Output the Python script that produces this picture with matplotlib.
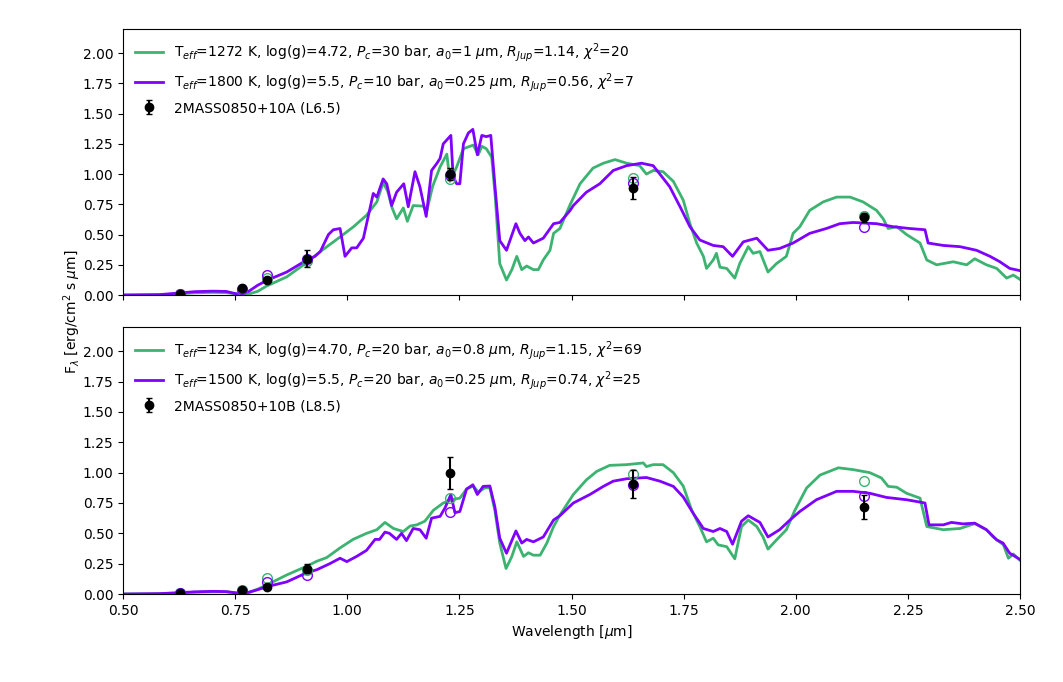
#!/usr/bin/env python
# python3
"""
    Model spectra vs photometry for 2MASS0850+10 A and B
"""
import numpy as np
import matplotlib
matplotlib.use("Agg")
import matplotlib.pyplot as plt

# photometric bands (micron)
wl_phot = [0.627, 0.766, 0.820, 0.911, 1.230, 1.638, 2.152]

# component A: observed flux and errors
obs_A = [0.010, 0.055, 0.124, 0.300, 1.000, 0.887, 0.642]
err_A = [0.005, 0.010, 0.010, 0.070, 0.050, 0.090, 0.040]
syn_A_g = [0.010, 0.040, 0.140, 0.280, 0.956, 0.964, 0.653]
syn_A_p = [0.012, 0.050, 0.165, 0.300, 0.990, 0.923, 0.565]

# component B
obs_B = [0.005, 0.033, 0.055, 0.210, 0.997, 0.909, 0.716]
err_B = [0.003, 0.008, 0.010, 0.040, 0.130, 0.115, 0.100]
syn_B_g = [0.006, 0.030, 0.130, 0.200, 0.790, 0.989, 0.934]
syn_B_p = [0.007, 0.025, 0.097, 0.157, 0.675, 0.895, 0.810]

# model spectra, A, 1272 K
wl_A_g = [0.50, 0.58, 0.62, 0.66, 0.70, 0.73, 0.755, 0.775, 0.80, 0.82, 0.865,
          0.91, 0.94, 0.984, 1.014, 1.043, 1.066, 1.08, 1.09, 1.10, 1.11, 1.125,
          1.134, 1.147, 1.17, 1.177, 1.19, 1.207, 1.222, 1.229, 1.244, 1.259,
          1.281, 1.292, 1.30, 1.31, 1.322, 1.33, 1.34, 1.355, 1.367, 1.378,
          1.389, 1.40, 1.415, 1.426, 1.437, 1.452, 1.46, 1.474, 1.496, 1.519,
          1.548, 1.571, 1.597, 1.623, 1.652, 1.667, 1.682, 1.704, 1.727, 1.749,
          1.764, 1.779, 1.794, 1.801, 1.816, 1.823, 1.831, 1.846, 1.864, 1.875,
          1.894, 1.905, 1.92, 1.938, 1.957, 1.979, 1.994, 2.009, 2.031, 2.061,
          2.091, 2.121, 2.15, 2.18, 2.195, 2.206, 2.225, 2.247, 2.277, 2.292,
          2.314, 2.351, 2.381, 2.399, 2.425, 2.448, 2.47, 2.485, 2.502]
fl_A_g = [0.0, 0.002, 0.01, 0.018, 0.022, 0.02, 0.008, 0.003, 0.03, 0.074, 0.15,
          0.27, 0.36, 0.48, 0.565, 0.66, 0.77, 0.93, 0.86, 0.72, 0.63, 0.72,
          0.61, 0.74, 0.735, 0.69, 0.895, 1.06, 1.165, 0.94, 1.06, 1.21,
          1.24, 1.16, 1.23, 1.21, 1.14, 0.81, 0.26, 0.124, 0.21, 0.32,
          0.21, 0.24, 0.21, 0.21, 0.29, 0.37, 0.51, 0.55, 0.74, 0.92,
          1.05, 1.09, 1.12, 1.09, 1.07, 1.0, 1.03, 1.02, 0.94, 0.785,
          0.59, 0.43, 0.32, 0.22, 0.29, 0.345, 0.23, 0.22, 0.14, 0.26,
          0.40, 0.345, 0.36, 0.19, 0.26, 0.32, 0.51, 0.565, 0.70, 0.77,
          0.81, 0.81, 0.77, 0.70, 0.63, 0.55, 0.565, 0.50, 0.43, 0.29,
          0.25, 0.275, 0.25, 0.30, 0.25, 0.22, 0.14, 0.165, 0.124]

# model spectra, A, 1800 K
wl_A_p = [0.50, 0.58, 0.62, 0.66, 0.70, 0.73, 0.75, 0.765, 0.78, 0.80, 0.82,
          0.865, 0.91, 0.928, 0.94, 0.958, 0.969, 0.984, 0.995, 1.01, 1.021,
          1.036, 1.058, 1.066, 1.08, 1.088, 1.099, 1.11, 1.126, 1.136, 1.151,
          1.162, 1.176, 1.188, 1.20, 1.207, 1.214, 1.231, 1.236, 1.244, 1.251,
          1.259, 1.27, 1.28, 1.29, 1.30, 1.31, 1.32, 1.33, 1.34, 1.355, 1.376,
          1.385, 1.396, 1.404, 1.415, 1.437, 1.46, 1.474, 1.497, 1.504, 1.533,
          1.563, 1.593, 1.623, 1.656, 1.682, 1.697, 1.719, 1.742, 1.764, 1.786,
          1.816, 1.838, 1.859, 1.883, 1.913, 1.938, 1.964, 1.994, 2.031, 2.068,
          2.098, 2.128, 2.18, 2.217, 2.254, 2.288, 2.295, 2.329, 2.366, 2.403,
          2.433, 2.455, 2.477, 2.502]
fl_A_p = [0.0, 0.003, 0.015, 0.028, 0.032, 0.03, 0.012, 0.005, 0.03, 0.08, 0.12,
          0.19, 0.29, 0.32, 0.36, 0.50, 0.54, 0.55, 0.32, 0.39, 0.39,
          0.47, 0.84, 0.81, 0.96, 0.92, 0.74, 0.85, 0.92, 0.73, 1.02,
          0.895, 0.65, 1.03, 1.09, 1.13, 1.25, 1.32, 0.98, 0.92, 0.92,
          1.25, 1.34, 1.37, 1.16, 1.32, 1.31, 1.32, 0.87, 0.45, 0.37, 0.59,
          0.51, 0.45, 0.48, 0.43, 0.47, 0.59, 0.60, 0.70, 0.74, 0.85,
          0.92, 1.03, 1.07, 1.09, 1.07, 1.0, 0.895, 0.73, 0.565, 0.455,
          0.41, 0.40, 0.32, 0.44, 0.47, 0.37, 0.385, 0.43, 0.51, 0.55,
          0.59, 0.60, 0.59, 0.565, 0.55, 0.54, 0.43, 0.41, 0.40, 0.37,
          0.32, 0.275, 0.22, 0.20]

# model spectra, B, 1234 K
wl_B_g = [0.50, 0.58, 0.62, 0.66, 0.70, 0.73, 0.755, 0.775, 0.80, 0.82, 0.865,
          0.91, 0.932, 0.954, 0.984, 1.013, 1.043, 1.066, 1.084, 1.103, 1.125,
          1.14, 1.155, 1.173, 1.192, 1.214, 1.236, 1.251, 1.266, 1.281, 1.292,
          1.307, 1.318, 1.329, 1.34, 1.354, 1.367, 1.378, 1.393, 1.404, 1.415,
          1.43, 1.445, 1.46, 1.474, 1.504, 1.533, 1.556, 1.585, 1.623, 1.66,
          1.667, 1.682, 1.704, 1.727, 1.749, 1.768, 1.786, 1.801, 1.816, 1.827,
          1.846, 1.864, 1.879, 1.894, 1.913, 1.927, 1.938, 1.957, 1.979, 1.998,
          2.024, 2.054, 2.095, 2.128, 2.165, 2.191, 2.206, 2.225, 2.247, 2.277,
          2.292, 2.329, 2.366, 2.399, 2.425, 2.44, 2.463, 2.474, 2.485, 2.502]
fl_B_g = [0.0, 0.002, 0.008, 0.015, 0.018, 0.018, 0.008, 0.004, 0.04, 0.074, 0.157,
          0.23, 0.27, 0.30, 0.38, 0.45, 0.50, 0.53, 0.59, 0.54, 0.515,
          0.56, 0.57, 0.60, 0.69, 0.75, 0.78, 0.79, 0.865, 0.89, 0.84,
          0.875, 0.875, 0.69, 0.42, 0.21, 0.31, 0.43, 0.31, 0.34, 0.32,
          0.32, 0.42, 0.556, 0.65, 0.82, 0.94, 1.01, 1.06, 1.066, 1.08,
          1.05, 1.066, 1.066, 1.0, 0.89, 0.69, 0.556, 0.43, 0.46, 0.405,
          0.39, 0.29, 0.556, 0.61, 0.556, 0.47, 0.37, 0.446, 0.53, 0.69,
          0.873, 0.98, 1.04, 1.025, 1.0, 0.956, 0.887, 0.88, 0.83, 0.79,
          0.556, 0.53, 0.54, 0.58, 0.53, 0.47, 0.405, 0.295, 0.33, 0.27]

# model spectra, B, 1500 K
wl_B_p = [0.50, 0.58, 0.62, 0.66, 0.70, 0.73, 0.755, 0.77, 0.80, 0.82, 0.865,
          0.91, 0.932, 0.961, 0.984, 0.999, 1.021, 1.043, 1.062, 1.072, 1.084,
          1.094, 1.11, 1.121, 1.132, 1.147, 1.162, 1.176, 1.188, 1.207, 1.218,
          1.231, 1.24, 1.251, 1.266, 1.28, 1.29, 1.303, 1.318, 1.329, 1.34,
          1.355, 1.376, 1.389, 1.40, 1.415, 1.437, 1.46, 1.474, 1.504, 1.541,
          1.571, 1.593, 1.623, 1.667, 1.697, 1.727, 1.749, 1.771, 1.794, 1.816,
          1.831, 1.846, 1.859, 1.879, 1.894, 1.92, 1.938, 1.964, 1.987, 2.009,
          2.046, 2.091, 2.128, 2.165, 2.202, 2.247, 2.288, 2.297, 2.329, 2.347,
          2.373, 2.399, 2.425, 2.448, 2.462, 2.477, 2.502]
fl_B_p = [0.0, 0.003, 0.01, 0.018, 0.022, 0.02, 0.008, 0.004, 0.035, 0.06, 0.10,
          0.176, 0.20, 0.25, 0.295, 0.267, 0.31, 0.36, 0.45, 0.45, 0.51,
          0.50, 0.45, 0.50, 0.44, 0.54, 0.53, 0.46, 0.625, 0.64, 0.71,
          0.82, 0.67, 0.68, 0.865, 0.90, 0.82, 0.887, 0.89, 0.72, 0.46,
          0.336, 0.52, 0.42, 0.45, 0.43, 0.47, 0.61, 0.645, 0.75, 0.82,
          0.887, 0.93, 0.95, 0.96, 0.93, 0.887, 0.80, 0.667, 0.54, 0.515,
          0.54, 0.515, 0.41, 0.60, 0.645, 0.59, 0.47, 0.53, 0.61, 0.68,
          0.777, 0.846, 0.846, 0.83, 0.796, 0.777, 0.75, 0.57, 0.57, 0.59,
          0.578, 0.584, 0.53, 0.446, 0.42, 0.336, 0.28]

lab_A_g = (r'T$_{eff}$=1272 K, log(g)=4.72, $P_c$=30 bar, $a_0$=1 $\mu$m, '
           r'$R_{Jup}$=1.14, $\chi^2$=20')
lab_A_p = (r'T$_{eff}$=1800 K, log(g)=5.5, $P_c$=10 bar, $a_0$=0.25 $\mu$m, '
           r'$R_{Jup}$=0.56, $\chi^2$=7')
lab_B_g = (r'T$_{eff}$=1234 K, log(g)=4.70, $P_c$=20 bar, $a_0$=0.8 $\mu$m, '
           r'$R_{Jup}$=1.15, $\chi^2$=69')
lab_B_p = (r'T$_{eff}$=1500 K, log(g)=5.5, $P_c$=20 bar, $a_0$=0.25 $\mu$m, '
           r'$R_{Jup}$=0.74, $\chi^2$=25')

green = '#3cb371'
purple = '#7f00ff'

fig = plt.figure(figsize=(10.63, 6.82), dpi=100)
ax1 = fig.add_axes([0.1157, 0.5674, 0.8439, 0.3901])
ax2 = fig.add_axes([0.1157, 0.1290, 0.8439, 0.3915], sharex=ax1)

panels = [(ax1, wl_A_g, fl_A_g, wl_A_p, fl_A_p, syn_A_g, syn_A_p, obs_A, err_A,
           lab_A_g, lab_A_p, '2MASS0850+10A (L6.5)'),
          (ax2, wl_B_g, fl_B_g, wl_B_p, fl_B_p, syn_B_g, syn_B_p, obs_B, err_B,
           lab_B_g, lab_B_p, '2MASS0850+10B (L8.5)')]

for (ax, wg, fg, wp, fp, sg, sp, ob, er, lg, lp, name) in panels:
    ax.plot(wg, fg, color=green, lw=2, label=lg)
    ax.plot(wp, fp, color=purple, lw=2, label=lp)
    ax.plot(wl_phot, sg, 'o', mfc='none', mec=green, ms=7)
    ax.plot(wl_phot, sp, 'o', mfc='none', mec=purple, ms=7)
    ax.errorbar(wl_phot, ob, yerr=er, fmt='o', color='k', ms=6,
                capsize=2, elinewidth=1.5, label=name, zorder=5)
    ax.set_xlim(0.5, 2.5)
    ax.set_ylim(0, 2.2)
    ax.set_yticks(np.arange(0, 2.01, 0.25))
    ax.legend(loc='upper left', frameon=False)

plt.setp(ax1.get_xticklabels(), visible=False)
ax2.set_xlabel(r'Wavelength [$\mu$m]')
fig.text(72 / 1063, 1 - 312 / 682, r'F$_\lambda$ [erg/cm$^2$ s $\mu$m]',
         rotation=90, ha='center', va='center')

plt.savefig('out.png', dpi=100)
